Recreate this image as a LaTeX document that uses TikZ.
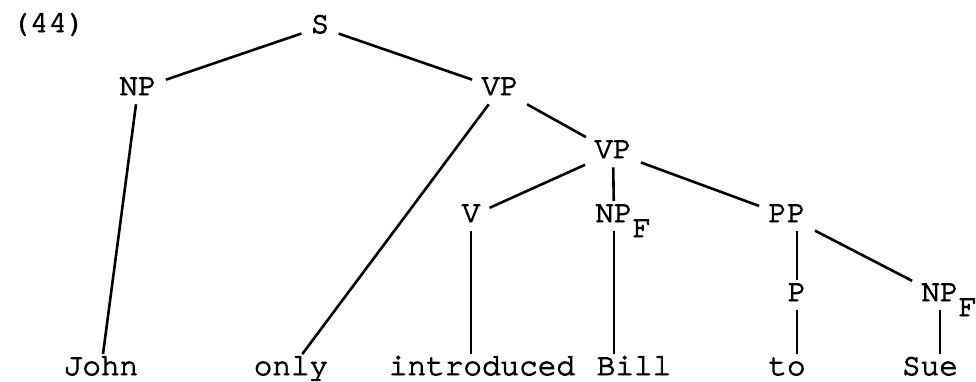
\documentclass[tikz,border=0pt]{standalone}
\usepackage{fontspec}
\setmonofont[FakeBold=3]{TeX Gyre Cursor}
\newcommand{\NPF}{NP\rlap{\raisebox{-7.5pt}{F}}}

\begin{document}
\begin{tikzpicture}[x=0.5pt, y=-0.5pt, line width=1.3pt,
  every node/.style={font=\ttfamily\fontsize{15.5pt}{18pt}\selectfont,
    inner sep=4pt, text height=0.58em, text depth=0pt, anchor=base}]
\useasboundingbox (0,0) rectangle (976,381);

% Nummer
\node[anchor=base west, inner sep=0pt] (nr) at (10,32) {(44)};

% Knoten
\node (s) at (320,33) {S};
\node (np) at (138,95) {NP};
\node (vpa) at (500,95) {VP};
\node (vpb) at (613,158) {VP};
\node (v) at (471,222) {V};
\node (npf) at (614,222) {\NPF};
\node (pp) at (787,222) {PP};
\node (p) at (797,301) {P};
\node (npfb) at (940,301) {\NPF};

% Woerter
\node (john) at (101,375) {John};
\node (only) at (291,375) {only};
\node (intro) at (482,375) {introduced};
\node (bill) at (634,375) {Bill};
\node (to) at (787,375) {to};
\node (sue) at (930,375) {Sue};

% Kanten
\draw (s) -- (np);
\draw (s) -- (vpa);
\draw (np) -- (john);
\draw (vpa) -- (only);
\draw (vpa) -- (vpb);
\draw (vpb) -- (v);
\draw (vpb) -- (npf);
\draw (vpb) -- (pp);
\draw (p |- pp.south) -- (p);
\draw (pp) -- (npfb);

% senkrecht zu den Woertern
\draw (v) -- (v |- intro.north);
\draw (npf) -- (npf |- bill.north);
\draw (p) -- (p |- to.north);
\draw (npfb) -- (npfb |- sue.north);

\end{tikzpicture}
\end{document}
